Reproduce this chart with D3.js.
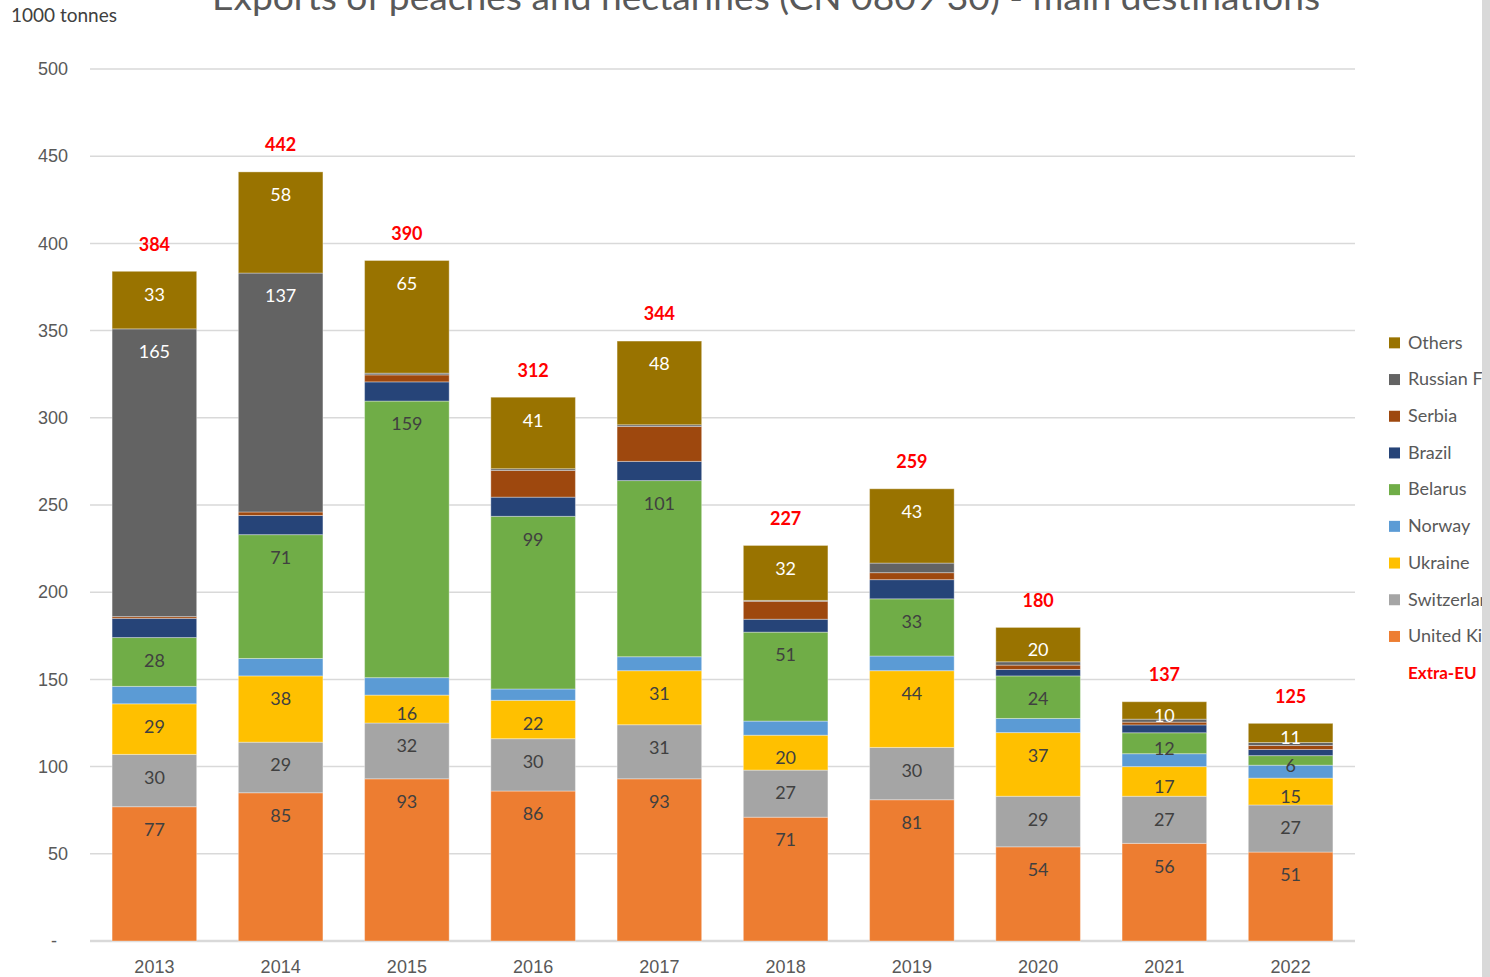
<!DOCTYPE html>
<html>
<head>
<meta charset="utf-8">
<script src="https://cdn.jsdelivr.net/npm/d3@7"></script>
<style>
  body { margin: 0; background: #fff; }
  svg { display: block; font-family: Lato, "Open Sans", sans-serif; }
</style>
</head>
<body>
<svg width="1490" height="977"></svg>
<script>
// data (1000 tonnes)
const years = ["2013", "2014", "2015", "2016", "2017", "2018", "2019", "2020", "2021", "2022"];
const unitedKingdom = [77, 85, 93, 86, 93, 71, 81, 54, 56, 51];
const switzerland = [30, 29, 32, 30, 31, 27, 30, 29, 27, 27];
const ukraine = [29, 38, 16, 22, 31, 20, 44, 36.5, 17, 15.4];
const norway = [10, 10, 10, 6.5, 8, 8.1, 8.4, 8.1, 7.4, 7.4];
const belarus = [28, 71, 158.6, 99, 101, 51, 32.8, 24.4, 12, 5.5];
const brazil = [11, 11, 11, 11, 11, 7.4, 11, 3.7, 4.5, 3.5];
const serbia = [1, 2, 4, 15.3, 20, 10.3, 4, 2.5, 1.6, 2.3];
const russia = [165, 137, 1, 1, 1, 0.5, 5.5, 1.9, 1.7, 1.7];
const others = [33, 58, 64.6, 41, 48, 31.5, 42.6, 19.7, 10, 11];
const extraEU = [384, 442, 390, 312, 344, 227, 259, 180, 137, 125];
const yTicks = [0, 50, 100, 150, 200, 250, 300, 350, 400, 450, 500];

const series = [
  { name: "United Kingdom", values: unitedKingdom, color: "#ED7D31", label: true },
  { name: "Switzerland", values: switzerland, color: "#A5A5A5", label: true },
  { name: "Ukraine", values: ukraine, color: "#FFC000", label: true },
  { name: "Norway", values: norway, color: "#5B9BD5", label: false },
  { name: "Belarus", values: belarus, color: "#70AD47", label: true },
  { name: "Brazil", values: brazil, color: "#264478", label: false },
  { name: "Serbia", values: serbia, color: "#9E480E", label: false },
  { name: "Russian Federation", values: russia, color: "#636363", label: true, white: true, min: 20 },
  { name: "Others", values: others, color: "#997300", label: true, white: true }
];

const svg = d3.select("svg");
const textColor = "#595959";

const x = d3.scaleBand().domain(years).range([90, 1355]).paddingInner(0.33).paddingOuter(0.175);
const y = d3.scaleLinear().domain([0, 500]).range([941, 69]);

// gridlines
svg.append("g")
  .selectAll("line")
  .data(yTicks)
  .join("line")
  .attr("x1", 90).attr("x2", 1355)
  .attr("y1", d => y(d)).attr("y2", d => y(d))
  .attr("stroke", "#d9d9d9")
  .attr("stroke-width", d => d === 0 ? 2.5 : 1.5);

// y axis labels
const yAxis = svg.append("g")
  .attr("transform", "translate(68,0)")
  .call(d3.axisLeft(y).tickValues(yTicks).tickSize(0).tickPadding(0).tickFormat(d => d === 0 ? "-" : d));
yAxis.select(".domain").remove();
yAxis.selectAll("text")
  .attr("fill", textColor)
  .style("font-size", "18px")
  .attr("x", d => d === 0 ? -11 : 0);

// x axis labels
const xAxis = svg.append("g")
  .attr("transform", "translate(0,941)")
  .call(d3.axisBottom(x).tickSize(0).tickPadding(0));
xAxis.select(".domain").remove();
xAxis.selectAll("text")
  .attr("fill", textColor)
  .attr("dy", "1.05em")
  .attr("y", 13)
  .style("font-size", "18px");

// stacked bars
const rows = years.map((yr, i) => {
  const r = { year: yr };
  series.forEach(s => { r[s.name] = s.values[i]; });
  return r;
});
const stacked = d3.stack().keys(series.map(s => s.name))(rows);

const layers = svg.append("g")
  .selectAll("g")
  .data(stacked)
  .join("g")
  .attr("fill", (d, i) => series[i].color);

layers.selectAll("rect")
  .data(d => d)
  .join("rect")
  .attr("x", d => x(d.data.year))
  .attr("width", x.bandwidth())
  .attr("y", d => y(d[1]))
  .attr("height", d => y(d[0]) - y(d[1]))
  .attr("stroke", "#ffffff")
  .attr("stroke-opacity", 0.35)
  .attr("stroke-width", 1);

// segment labels
stacked.forEach((layer, i) => {
  const s = series[i];
  if (!s.label) return;
  svg.append("g")
    .selectAll("text")
    .data(layer.filter(d => (d[1] - d[0]) >= (s.min || 0)))
    .join("text")
    .attr("x", d => x(d.data.year) + x.bandwidth() / 2)
    .attr("y", d => {
      const top = y(d[1]);
      const h = y(d[0]) - top;
      return top + Math.min(23, h / 2 + 5);
    })
    .attr("dy", "0.35em")
    .attr("text-anchor", "middle")
    .attr("fill", s.white ? "#ffffff" : "#404040")
    .style("font-size", "18px")
    .text(d => d3.format(".0f")(d[1] - d[0]));
});

// totals
const lastLayer = stacked[stacked.length - 1];
svg.append("g")
  .selectAll("text")
  .data(lastLayer)
  .join("text")
  .attr("x", d => x(d.data.year) + x.bandwidth() / 2)
  .attr("y", d => y(d[1]) - 27)
  .attr("dy", "0.35em")
  .attr("text-anchor", "middle")
  .attr("fill", "#ff0000")
  .style("font-size", "18px")
  .style("font-weight", "bold")
  .text((d, i) => extraEU[i]);

// title (cut off at top) and unit
svg.append("text")
  .attr("x", 766).attr("y", 10)
  .attr("text-anchor", "middle")
  .attr("fill", textColor)
  .attr("textLength", 1108)
  .attr("lengthAdjust", "spacingAndGlyphs")
  .style("font-size", "34px")
  .text("Exports of peaches and nectarines (CN 0809 30) - main destinations");

svg.append("text")
  .attr("x", 11).attr("y", 22)
  .attr("fill", "#404040")
  .style("font-size", "19px")
  .text("1000 tonnes");

// legend (clipped at the right edge)
svg.append("clipPath").attr("id", "legendClip")
  .append("rect").attr("x", 1380).attr("y", 300).attr("width", 102).attr("height", 420);

const legend = svg.append("g").attr("clip-path", "url(#legendClip)");
const legendItems = series.slice().reverse();
const ly = d3.scaleBand().domain(legendItems.map(s => s.name).concat(["Extra-EU"])).range([324, 691]);

legend.selectAll("rect")
  .data(legendItems)
  .join("rect")
  .attr("x", 1389)
  .attr("y", d => ly(d.name) + ly.bandwidth() / 2 - 5)
  .attr("width", 11).attr("height", 11)
  .attr("fill", d => d.color);

legend.selectAll("text.item")
  .data(legendItems)
  .join("text")
  .attr("class", "item")
  .attr("x", 1408)
  .attr("y", d => ly(d.name) + ly.bandwidth() / 2)
  .attr("dy", "0.35em")
  .attr("fill", textColor)
  .style("font-size", "18px")
  .text(d => d.name);

legend.append("text")
  .attr("x", 1408)
  .attr("y", ly("Extra-EU") + ly.bandwidth() / 2)
  .attr("dy", "0.35em")
  .attr("fill", "#ff0000")
  .style("font-size", "17px")
  .style("font-weight", "bold")
  .text("Extra-EU");

// grey strip at the right edge
svg.append("rect").attr("x", 1482).attr("y", 0).attr("width", 8).attr("height", 977).attr("fill", "#d9d9d9");
</script>
</body>
</html>
